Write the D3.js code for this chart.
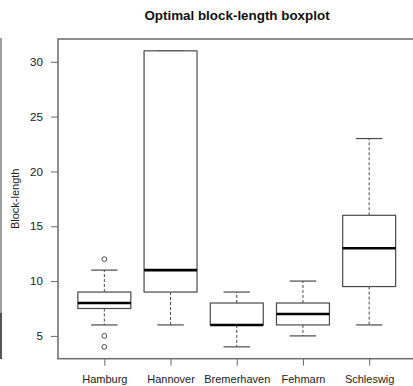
<!DOCTYPE html>
<html>
<head>
<meta charset="utf-8">
<script src="https://cdn.jsdelivr.net/npm/d3@7"></script>
<style>
  html, body { margin: 0; padding: 0; background: #fff; }
  svg { display: block; font-family: "Liberation Sans", Arial, sans-serif; }
</style>
</head>
<body>
<svg id="chart" width="413" height="386"></svg>
<script>
// Box summaries per station
const categories = ["Hamburg", "Hannover", "Bremerhaven", "Fehmarn", "Schleswig"];
const whiskerLow  = [6, 6, 4, 5, 6];
const q1          = [7.5, 9, 6, 6, 9.5];
const medians     = [8, 11, 6, 7, 13];
const q3          = [9, 31, 8, 8, 16];
const whiskerHigh = [11, 31, 9, 10, 23];
const outliers    = [[12, 5, 4], [], [], [], []];
const yTicks      = [5, 10, 15, 20, 25, 30];

const svg = d3.select("#chart");

// plotting region
const plotTop = 39, plotBottom = 358.7, plotLeft = 58, plotRight = 415.5;

const x = d3.scaleLinear().domain([0.3, 5.7]).range([plotLeft, plotRight]);
const y = d3.scaleLinear().domain([2.92, 32.08]).range([plotBottom, plotTop]);

const frameCol = "#6a6a6a";
const boxCol = "#4a4a4a";
const halfBox = 0.4;
const halfCap = 0.2;

// thin border strip along the left edge
svg.append("rect").attr("x", 0).attr("y", 38).attr("width", 2).attr("height", 275).attr("fill", "#a0a0a0");
svg.append("rect").attr("x", 0).attr("y", 313).attr("width", 2).attr("height", 46).attr("fill", "#555");

// title
svg.append("text")
  .attr("x", 237).attr("y", 19.5)
  .attr("text-anchor", "middle")
  .attr("font-weight", "bold").attr("font-size", 13.4)
  .attr("fill", "#111")
  .text("Optimal block-length boxplot");

// y axis label
svg.append("text")
  .attr("transform", `translate(19,${(plotTop + plotBottom) / 2}) rotate(-90)`)
  .attr("text-anchor", "middle")
  .attr("font-size", 11).attr("fill", "#222")
  .text("Block-length");

// y axis
const yAxis = svg.append("g")
  .attr("transform", `translate(${plotLeft},0)`)
  .call(d3.axisLeft(y).tickValues(yTicks).tickSize(7).tickPadding(8).tickFormat(d3.format("d")));
yAxis.select(".domain").remove();
yAxis.selectAll("line").attr("stroke", frameCol);
yAxis.selectAll("text").attr("font-size", 11.6).attr("fill", "#222")
  .attr("font-family", "Liberation Sans, Arial, sans-serif");

// x axis
const xAxis = svg.append("g")
  .attr("transform", `translate(0,${plotBottom})`)
  .call(d3.axisBottom(x).tickValues(d3.range(1, categories.length + 1))
    .tickSize(7).tickPadding(10).tickFormat(i => categories[i - 1]));
xAxis.select(".domain").remove();
xAxis.selectAll("line").attr("stroke", frameCol);
xAxis.selectAll("text").attr("font-size", 11).attr("fill", "#222")
  .attr("font-family", "Liberation Sans, Arial, sans-serif");

// plot frame
svg.append("rect")
  .attr("x", plotLeft).attr("y", plotTop)
  .attr("width", plotRight - plotLeft).attr("height", plotBottom - plotTop)
  .attr("fill", "none").attr("stroke", frameCol).attr("stroke-width", 1.5);

// boxes
const g = svg.append("g");
categories.forEach((c, i) => {
  const cx = i + 1;
  const gg = g.append("g");
  // whiskers
  gg.append("line")
    .attr("x1", x(cx)).attr("x2", x(cx))
    .attr("y1", y(q3[i])).attr("y2", y(whiskerHigh[i]))
    .attr("stroke", boxCol).attr("stroke-width", 1).attr("stroke-dasharray", "3,2");
  gg.append("line")
    .attr("x1", x(cx)).attr("x2", x(cx))
    .attr("y1", y(q1[i])).attr("y2", y(whiskerLow[i]))
    .attr("stroke", boxCol).attr("stroke-width", 1).attr("stroke-dasharray", "3,2");
  // caps
  [whiskerHigh[i], whiskerLow[i]].forEach(v => {
    gg.append("line")
      .attr("x1", x(cx - halfCap)).attr("x2", x(cx + halfCap))
      .attr("y1", y(v)).attr("y2", y(v))
      .attr("stroke", boxCol).attr("stroke-width", 1.2);
  });
  // box
  gg.append("rect")
    .attr("x", x(cx - halfBox)).attr("y", y(q3[i]))
    .attr("width", x(cx + halfBox) - x(cx - halfBox))
    .attr("height", y(q1[i]) - y(q3[i]))
    .attr("fill", "#fff").attr("stroke", boxCol).attr("stroke-width", 1.2);
  // median
  gg.append("line")
    .attr("x1", x(cx - halfBox)).attr("x2", x(cx + halfBox))
    .attr("y1", y(medians[i])).attr("y2", y(medians[i]))
    .attr("stroke", "#000").attr("stroke-width", 2.6);
  // outliers
  outliers[i].forEach(v => {
    gg.append("circle")
      .attr("cx", x(cx)).attr("cy", y(v)).attr("r", 2.4)
      .attr("fill", "none").attr("stroke", boxCol).attr("stroke-width", 1);
  });
});
</script>
</body>
</html>
